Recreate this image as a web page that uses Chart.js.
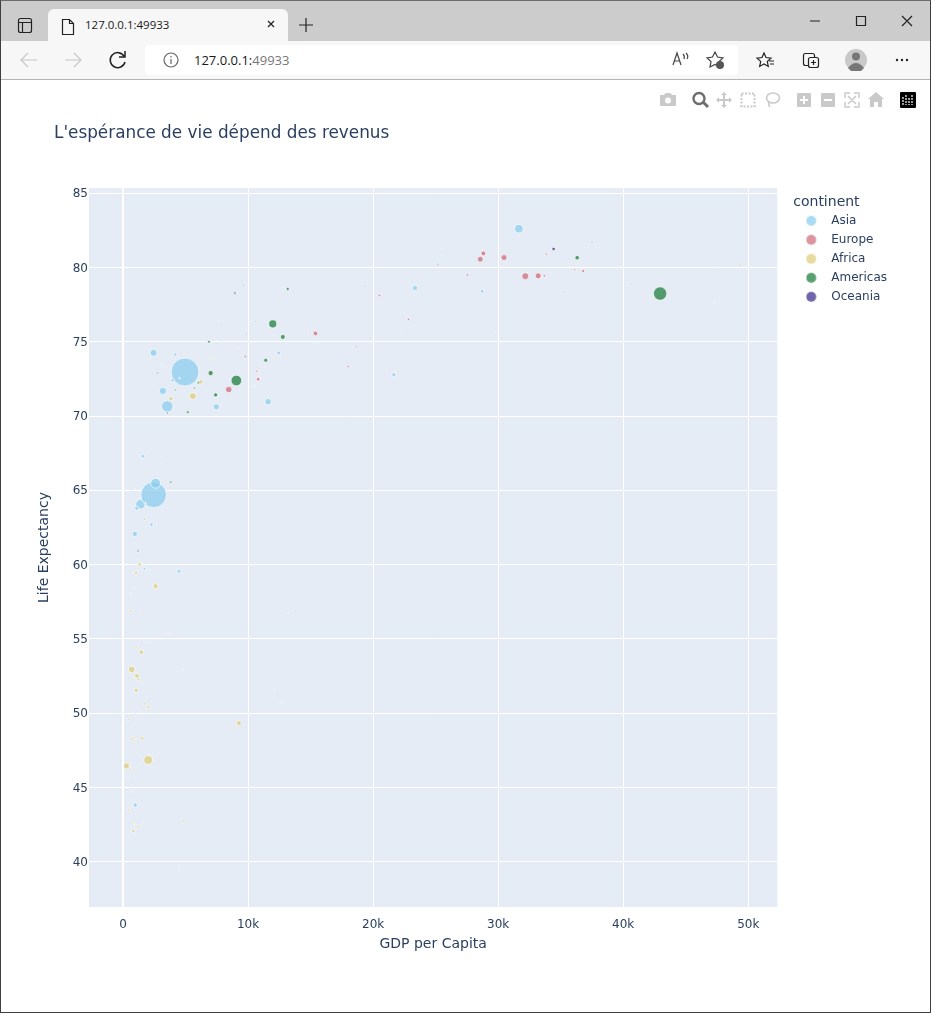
<!DOCTYPE html>
<html lang="fr">
  <head>
    <title>127.0.0.1:49933</title>
    <meta charset="UTF-8" />
    <meta name="viewport" content="width=device-width" />
    <script src="https://cdn.jsdelivr.net/npm/chart.js@4"></script>
    <style>
      html, body { margin: 0; padding: 0; background: #fff; overflow: hidden; }
      body { width: 931px; height: 1013px; position: relative; font-family: "Open Sans", "Noto Sans", sans-serif; }
      #frame { position: absolute; inset: 0; border: 1px solid #3c4043; border-top-color: #6b6b6b; z-index: 5; pointer-events: none; }
      #tabs { position: absolute; left: 0; top: 0; width: 931px; height: 41px; background: #cccccc; }
      #tab { position: absolute; left: 48px; top: 9px; width: 240px; height: 32px; background: #f7f7f7; border-radius: 6px 6px 0 0; }
      #tab span { position: absolute; left: 37px; top: 8px; font-size: 11.5px; color: #1a1a1a; }
      #toolbar { position: absolute; left: 0; top: 41px; width: 931px; height: 38px; background: #f7f7f7; border-bottom: 1px solid #b5b5b5; }
      #address { position: absolute; left: 145px; top: 4px; width: 593px; height: 30px; background: #fff; border-radius: 4px; }
      #address span { position: absolute; left: 49px; top: 6px; font-size: 13px; color: #1a1a1a; }
      #address i { font-style: normal; color: #777; }
      .icons { position: absolute; left: 0; top: 0; }
      #chartBox { position: absolute; left: 0; top: 80px; width: 931px; height: 933px; }
      #grafico { display: block; }
    </style>
  </head>
  <body>
    <div id="tabs">
      <div id="tab"><span>127.0.0.1:49933</span></div>
    </div>
    <div id="toolbar">
      <div id="address"><span>127.0.0.1:<i>49933</i></span></div>
    </div>
    <svg class="icons" width="931" height="115" fill="none" stroke="#222" stroke-width="1.2">
      <!-- sidebar, tab page, tab close, new tab -->
      <rect x="18.5" y="18.5" width="13" height="14" rx="2" />
      <path d="M19 22.5h12M22.5 23v9" />
      <path d="M62.5 19.5h7l4 4v11h-11zM69.5 19.5v4h4" />
      <path d="M268 21l6 6M274 21l-6 6M299 25h14M306 18v14" />
      <!-- window buttons -->
      <path d="M810 21h10M856.5 16.5h9v9h-9zM902 16l10 10M912 16l-10 10" />
      <!-- back, forward, reload -->
      <path stroke="#c8c8c8" d="M21 60h16M28 53l-7 7 7 7M65 60h16M74 53l7 7-7 7" />
      <path stroke-width="1.5" d="M124 56a7.5 7.5 0 1 0 1 6M125 51v6h-6" />
      <!-- info -->
      <circle cx="171" cy="60" r="7" stroke="#666" />
      <path stroke="#666" d="M171 59v5M171 56v1.5" />
      <!-- address bar right -->
      <path stroke="#444" d="M673 65l4-12 4 12M675 61h4M683 54q2 2 1 5M686 53q3 3 1 6" />
      <path stroke="#444" d="M715 52l2.5 5 5.5.8-4 3.8 1 5.4-5-2.6-5 2.6 1-5.4-4-3.8 5.5-.8z" />
      <circle cx="720" cy="65" r="4" fill="#555" stroke="none" />
      <!-- favourites, collections, profile, menu -->
      <path d="M764 53l2 4.5 5 .6-3.7 3.3 1 5-4.3-2.5-4.3 2.5 1-5-3.7-3.3 5-.6zM769 61h5M770 64h4" />
      <rect x="803.5" y="53.5" width="11" height="12" rx="2" />
      <rect x="808.5" y="57.5" width="10" height="10" rx="2" fill="#f7f7f7" />
      <path d="M813.5 60v5M811 62.5h5" />
      <circle cx="856" cy="60" r="11" fill="#c9c9c9" stroke="none" />
      <circle cx="856" cy="56.5" r="4" fill="#777" stroke="none" />
      <path d="M848 68q8-10 16 0l-3 3h-10z" fill="#777" stroke="none" />
      <circle cx="897" cy="60" r="1.2" fill="#222" stroke="none" />
      <circle cx="902" cy="60" r="1.2" fill="#222" stroke="none" />
      <circle cx="907" cy="60" r="1.2" fill="#222" stroke="none" />
      <!-- plot toolbar -->
      <g stroke="none" fill="#c9c9c9">
        <path d="M660 95h4l1.5-2h5l1.5 2h4v11h-16z" />
        <circle cx="668" cy="100.5" r="3" fill="#fff" />
        <circle cx="699" cy="98.5" r="5.5" fill="#fff" stroke="#6e6e6e" stroke-width="2.4" />
        <path d="M703 102l5 5" stroke="#6e6e6e" stroke-width="3" />
        <path d="M724 92l3 3h-2v4h4v-2l3 3-3 3v-2h-4v4h2l-3 3-3-3h2v-4h-4v2l-3-3 3-3v2h4v-4h-2z" />
        <rect x="741.5" y="93.5" width="13" height="13" fill="none" stroke="#c9c9c9" stroke-width="2" stroke-dasharray="2 1.5" />
        <ellipse cx="773" cy="98" rx="6.5" ry="5" fill="none" stroke="#c9c9c9" stroke-width="1.6" />
        <path d="M769 102q-1 3 1 5" fill="none" stroke="#c9c9c9" stroke-width="1.6" />
        <rect x="797" y="93" width="14" height="14" rx="1.5" />
        <path d="M804 96v8M800 100h8" stroke="#fff" stroke-width="2" />
        <rect x="821" y="93" width="14" height="14" rx="1.5" />
        <path d="M824 100h8" stroke="#fff" stroke-width="2" />
        <path d="M845 98v-5h5M854 93h5v5M859 102v5h-5M850 107h-5v-5M848 96l8 8M856 96l-8 8" fill="none" stroke="#c9c9c9" stroke-width="1.5" />
        <path d="M876 92l8 7h-2v8h-4v-5h-4v5h-4v-8h-2z" />
        <rect x="900" y="92" width="16" height="16" rx="1" fill="#000" />
        <path d="M903 97v8M906 95v10M909 98v7M912 95v10" stroke="#fff" stroke-width="1.2" stroke-dasharray="2 1" />
      </g>
    </svg>
    <div id="chartBox"><canvas id="grafico" width="931" height="933"></canvas></div>
    <div id="frame"></div>
    <script>
      const asiaGdp = [975, 29796, 1391, 1714, 4959, 39725, 2452, 3541, 11606, 4471, 25523, 31656, 4519, 1593, 23348, 47307, 10461, 12452, 3096, 944, 1091, 22316, 2606, 3190, 21655, 47143, 3970, 4185, 28718, 7458, 2442, 3025, 2281];
      const asiaLife = [43.83, 75.64, 64.06, 59.72, 72.96, 82.21, 64.7, 70.65, 70.96, 59.55, 80.75, 82.6, 72.54, 67.3, 78.62, 77.59, 71.99, 74.24, 66.8, 62.07, 63.79, 75.64, 65.48, 71.69, 72.78, 79.97, 72.4, 74.14, 78.4, 70.62, 74.25, 73.42, 62.7];
      const asiaPop = [31.9, 0.71, 150.4, 14.1, 1318.7, 6.98, 1110.4, 223.5, 69.5, 27.5, 6.43, 127.5, 6.05, 23.3, 49, 2.5, 3.92, 24.8, 2.87, 47.8, 28.9, 3.2, 169.3, 91.1, 27.6, 4.55, 20.4, 19.3, 23.2, 65.1, 85.3, 4.02, 22.2];

      const europeGdp = [5937, 36126, 33693, 7446, 10681, 14619, 22833, 35278, 33207, 30470, 32170, 27538, 18009, 36181, 40676, 28570, 9254, 36798, 49357, 15390, 20510, 10808, 9787, 18678, 25768, 28821, 33860, 37506, 8458, 33203];
      const europeLife = [76.42, 79.83, 79.44, 74.85, 73.01, 75.75, 76.49, 78.33, 79.31, 80.66, 79.41, 79.48, 73.34, 81.76, 78.89, 80.55, 74.54, 79.76, 80.2, 75.56, 78.1, 72.48, 74, 74.66, 77.93, 80.94, 80.88, 81.7, 71.78, 79.43];
      const europePop = [3.6, 8.2, 10.4, 4.55, 7.32, 4.49, 10.2, 5.47, 5.24, 61.1, 82.4, 10.7, 9.96, 0.3, 4.11, 58.1, 0.68, 16.6, 4.63, 38.5, 10.6, 22.3, 10.15, 5.45, 2, 40.4, 9.03, 7.55, 71.2, 60.8];

      const africaGdp = [6223, 4797, 1441, 12570, 1217, 430, 2042, 706, 1704, 986, 278, 3633, 1545, 2082, 5581, 12154, 641, 691, 13206, 753, 1328, 943, 579, 1463, 1569, 415, 12057, 1045, 759, 1043, 1803, 10957, 3820, 824, 4811, 620, 2014, 7670, 863, 1598, 1712, 863, 926, 9270, 2602, 4513, 1108, 883, 7093, 1056, 1271, 470];
      const africaLife = [72.3, 42.73, 56.73, 50.73, 52.3, 49.58, 50.43, 44.74, 50.65, 65.15, 46.46, 55.32, 48.33, 54.79, 71.34, 51.58, 58.04, 52.95, 56.74, 59.45, 60.02, 56.01, 46.39, 54.11, 42.59, 45.68, 73.95, 59.44, 48.3, 54.47, 64.16, 72.8, 71.16, 42.08, 52.91, 56.87, 46.86, 76.44, 46.24, 65.53, 63.06, 42.57, 48.16, 49.34, 58.56, 39.61, 52.52, 58.42, 73.92, 51.54, 42.38, 43.49];
      const africaPop = [33.3, 12.4, 8.08, 1.64, 14.3, 8.39, 17.7, 4.37, 10.2, 0.71, 64.6, 3.8, 18, 0.5, 80.3, 0.55, 4.9, 76.5, 1.45, 1.69, 22.9, 9.95, 1.47, 35.6, 2.01, 3.19, 6.04, 19.2, 13.3, 12, 3.27, 1.25, 33.8, 20, 2.06, 12.9, 135, 0.8, 8.86, 0.2, 12.3, 6.14, 9.12, 44, 42.3, 1.13, 38.1, 5.7, 10.3, 29.2, 11.7, 12.3];

      const americasGdp = [12779, 3822, 9066, 36319, 13172, 7007, 9645, 8948, 6025, 6873, 5728, 5186, 1202, 3548, 7321, 11978, 2749, 9809, 4173, 7409, 19329, 18009, 42952, 10611, 11416];
      const americasLife = [75.32, 65.55, 72.39, 80.65, 78.55, 72.89, 78.78, 78.27, 72.24, 74.99, 71.88, 70.26, 60.92, 70.2, 72.57, 76.2, 72.9, 75.54, 71.75, 71.42, 78.75, 69.82, 78.24, 76.38, 73.75];
      const americasPop = [40.3, 9.1, 190, 33.4, 16.3, 44.2, 4.13, 11.4, 9.32, 13.76, 6.94, 12.57, 8.5, 7.48, 2.78, 108.7, 5.68, 3.24, 6.67, 28.7, 3.94, 1.06, 301, 3.45, 26.1];

      const oceaniaGdp = [34435, 25185];
      const oceaniaLife = [81.24, 80.2];
      const oceaniaPop = [20.4, 4.1];

      const continents = ['Asia', 'Europe', 'Africa', 'Americas', 'Oceania'];
      const couleurs = ['136,204,238', '204,102,119', '221,204,119', '17,119,51', '51,34,136'];
      const xTicks = [0, 10000, 20000, 30000, 40000, 50000];
      const xTickLabels = ['0', '10k', '20k', '30k', '40k', '50k'];
      const yTicks = [40, 45, 50, 55, 60, 65, 70, 75, 80, 85];

      const TEXTE = '#2a3f5f';
      const POLICE = '"DejaVu Sans", Verdana, sans-serif';
      // plus grande bulle (Chine) : environ 14 px de rayon
      const ECHELLE = 14 / Math.sqrt(1318.7);

      function points(gdp, life, pop) {
        return gdp.map((g, i) => ({ x: g, y: life[i], r: ECHELLE * Math.sqrt(pop[i]) }));
      }

      // pastille de légende, un peu à gauche du centre de sa boîte
      function pastille(rgb) {
        const c = document.createElement('canvas');
        c.width = 14;
        c.height = 14;
        const ctx = c.getContext('2d');
        ctx.fillStyle = 'rgba(' + rgb + ',0.7)';
        ctx.beginPath();
        ctx.arc(5.5, 7, 5, 0, Math.PI * 2);
        ctx.fill();
        return c;
      }

      const series = [
        points(asiaGdp, asiaLife, asiaPop),
        points(europeGdp, europeLife, europePop),
        points(africaGdp, africaLife, africaPop),
        points(americasGdp, americasLife, americasPop),
        points(oceaniaGdp, oceaniaLife, oceaniaPop),
      ];

      const fond = {
        id: 'fond',
        beforeDraw(chart) {
          const a = chart.chartArea;
          chart.ctx.fillStyle = '#E5ECF6';
          chart.ctx.fillRect(a.left, a.top, a.right - a.left, a.bottom - a.top);
        },
        afterLayout(chart) {
          // la légende est décalée par rapport à la zone du graphique
          chart.legend.left += 16;
          chart.legend.right += 16;
          chart.legend.top += 66;
          chart.legend.bottom += 66;
        },
      };

      new Chart(document.getElementById('grafico'), {
        type: 'bubble',
        plugins: [fond],
        data: {
          datasets: continents.map((nom, i) => ({
            label: nom,
            data: series[i],
            order: continents.length - i, // Asia dessous, comme dans la figure
            backgroundColor: 'rgba(' + couleurs[i] + ',0.7)',
            borderColor: 'rgba(255,255,255,0.7)',
            borderWidth: 1,
            pointStyle: 'circle',
          })),
        },
        options: {
          responsive: false,
          animation: false,
          events: [],
          layout: { padding: { left: 54, top: 44, right: 50, bottom: 60 } },
          plugins: {
            tooltip: { enabled: false },
            title: {
              display: true,
              text: "L'espérance de vie dépend des revenus",
              align: 'start',
              color: TEXTE,
              font: { family: POLICE, size: 16.85, weight: 'normal', lineHeight: 1.2 },
              padding: { top: 0, bottom: 43.78 },
            },
            legend: {
              position: 'right',
              align: 'start',
              reverse: true,
              title: {
                display: true,
                text: 'continent',
                color: TEXTE,
                position: 'start',
                font: { family: POLICE, size: 14 },
                padding: { top: 5, bottom: -4 },
              },
              labels: {
                color: TEXTE,
                font: { family: POLICE, size: 12 },
                usePointStyle: true,
                pointStyleWidth: 25,
                padding: 7,
                generateLabels(chart) {
                  return continents.map((nom, i) => ({
                    text: nom,
                    fontColor: TEXTE,
                    datasetIndex: i,
                    pointStyle: pastille(couleurs[i]),
                    lineWidth: 0,
                  })).reverse();
                },
              },
            },
          },
          scales: {
            x: {
              type: 'linear',
              min: -2720,
              max: 52320,
              afterBuildTicks(scale) {
                scale.ticks = xTicks.map((v) => ({ value: v }));
              },
              afterFit(scale) {
                scale.height = 46;
              },
              ticks: {
                color: TEXTE,
                font: { family: POLICE, size: 12 },
                padding: 11,
                maxRotation: 0,
                callback: (v) => xTickLabels[xTicks.indexOf(v)],
              },
              grid: {
                color: '#ffffff',
                lineWidth: (ctx) => (ctx.tick && ctx.tick.value === 0 ? 2 : 1),
                drawTicks: false,
              },
              border: { display: false },
              title: {
                display: true,
                text: 'GDP per Capita',
                color: TEXTE,
                font: { family: POLICE, size: 14 },
                padding: { top: 11, bottom: 0 },
              },
            },
            y: {
              min: 36.97,
              max: 85.34,
              afterBuildTicks(scale) {
                scale.ticks = yTicks.map((v) => ({ value: v }));
              },
              afterFit(scale) {
                scale.width = 35;
              },
              ticks: {
                color: TEXTE,
                font: { family: POLICE, size: 12 },
                padding: 1,
                labelOffset: 1,
              },
              grid: { color: '#ffffff', lineWidth: 1, drawTicks: false },
              border: { display: false },
              title: {
                display: true,
                text: 'Life Expectancy',
                color: TEXTE,
                font: { family: POLICE, size: 14 },
                padding: { top: -18, bottom: 0 },
              },
            },
          },
        },
      });
    </script>
  </body>
</html>
